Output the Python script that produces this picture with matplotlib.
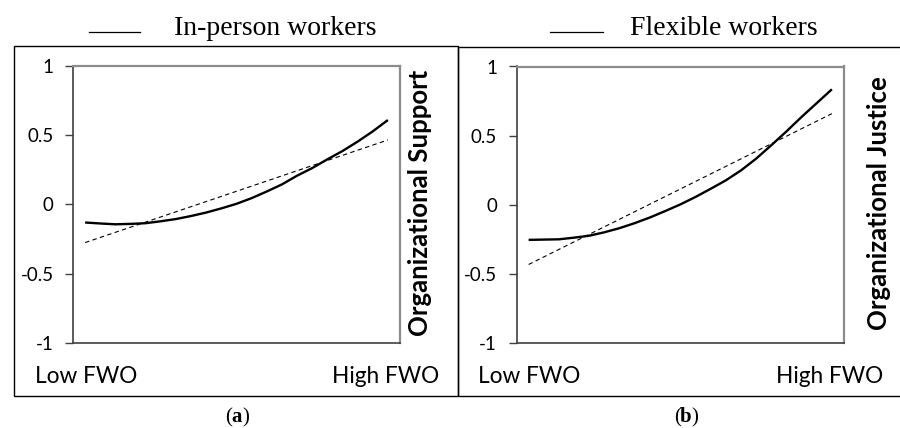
import matplotlib
matplotlib.use('Agg')
import matplotlib.pyplot as plt
from matplotlib.patches import Rectangle
from matplotlib.lines import Line2D

W, H = 900, 428

# x positions along the FWO axis (0 = low, 10 = high)
fwo = [0, 0.5, 1, 1.5, 2, 2.5, 3, 3.5, 4, 4.5, 5, 5.5, 6, 6.5, 7, 7.5, 8, 8.5, 9, 9.5, 10]
fwo_ends = [0, 10]

# (a) In-person workers -> Organizational Support
support_curve = [-0.13, -0.137, -0.143, -0.14, -0.135, -0.121, -0.105, -0.083, -0.058, -0.028,
                 0.005, 0.046, 0.094, 0.145, 0.208, 0.263, 0.326, 0.386, 0.454, 0.528, 0.61]
support_linear = [-0.275, 0.466]

# (b) Flexible workers -> Organizational Justice
justice_curve = [-0.254, -0.252, -0.25, -0.238, -0.224, -0.199, -0.169, -0.133, -0.092, -0.046,
                 0.002, 0.056, 0.115, 0.176, 0.248, 0.333, 0.43, 0.53, 0.635, 0.735, 0.835]
justice_linear = [-0.432, 0.659]

yticks = [-1, -0.5, 0, 0.5, 1]
ytick_labels = ['-1', '-0.5', '0', '0.5', '1']

SANS = ['Lato', 'DejaVu Sans']
SERIF = ['Liberation Serif', 'DejaVu Serif']


def fx(px):
    return px / W


def fy(py):
    return 1 - py / H


fig = plt.figure(figsize=(W / 100, H / 100), dpi=100)

panels = [
    dict(box=(14, 46, 458, 396), ax=(73, 66, 400, 343), curve=support_curve,
         linear=support_linear, title='In-person workers', title_x=275, leg=(89, 140),
         ylabel='Organizational Support', ylabel_x=420, low_x=35, high_x=439, tag='a', tag_x=237),
    dict(box=(458, 47, 901, 396), ax=(516.5, 66.5, 844, 343), curve=justice_curve,
         linear=justice_linear, title='Flexible workers', title_x=724, leg=(550, 603),
         ylabel='Organizational Justice', ylabel_x=879, low_x=478, high_x=883, tag='b', tag_x=686),
]

for p in panels:
    x0, y0, x1, y1 = p['box']
    fig.add_artist(Rectangle((fx(x0), fy(y1)), fx(x1) - fx(x0), fy(y0) - fy(y1),
                             transform=fig.transFigure, fill=False, edgecolor='black', lw=1.0))

    l, t, r, b = p['ax']
    ax = fig.add_axes([fx(l), fy(b), fx(r) - fx(l), fy(t) - fy(b)])
    ax.plot(fwo, p['curve'], color='black', lw=1.7, solid_capstyle='butt', solid_joinstyle='round')
    ax.plot(fwo_ends, p['linear'], color='black', lw=0.8, dashes=(4, 3))
    ax.set_xlim(-0.4, 10.4)
    ax.set_ylim(-1, 1)
    ax.set_xticks([])
    ax.set_yticks(yticks)
    ax.set_yticklabels(ytick_labels, fontfamily=SANS, fontsize=13.5)
    ax.tick_params(axis='y', length=6, width=1, color='#404040', pad=8)
    for side in ['left', 'bottom']:
        ax.spines[side].set_color('#404040')
        ax.spines[side].set_linewidth(1.2)
    for side in ['top', 'right']:
        ax.spines[side].set_color('#8c8c8c')
        ax.spines[side].set_linewidth(1.6)

    # legend-like title
    lx0, lx1 = p['leg']
    fig.add_artist(Line2D([fx(lx0), fx(lx1)], [fy(31.5), fy(31.5)], transform=fig.transFigure,
                          color='black', lw=0.9))
    fig.text(fx(p['title_x']), fy(35), p['title'], ha='center', va='baseline',
             fontfamily=SERIF, fontsize=20)

    fig.text(fx(p['ylabel_x']), fy(203), p['ylabel'], rotation=90, ha='center', va='center',
             fontfamily=SANS, fontsize=18.5, fontweight='bold')
    fig.text(fx(p['low_x']), fy(383), 'Low FWO', ha='left', va='baseline',
             fontfamily=SANS, fontsize=16.3)
    fig.text(fx(p['high_x']), fy(383), 'High FWO', ha='right', va='baseline',
             fontfamily=SANS, fontsize=16.3)
    cx = p['tag_x']
    fig.text(fx(cx - 5), fy(422), '(', ha='right', va='baseline', fontfamily=SERIF, fontsize=15)
    fig.text(fx(cx), fy(422), p['tag'], ha='center', va='baseline', fontfamily=SERIF,
             fontsize=15, fontweight='bold')
    fig.text(fx(cx + 5), fy(422), ')', ha='left', va='baseline', fontfamily=SERIF, fontsize=15)

fig.savefig('out.png', dpi=100)
